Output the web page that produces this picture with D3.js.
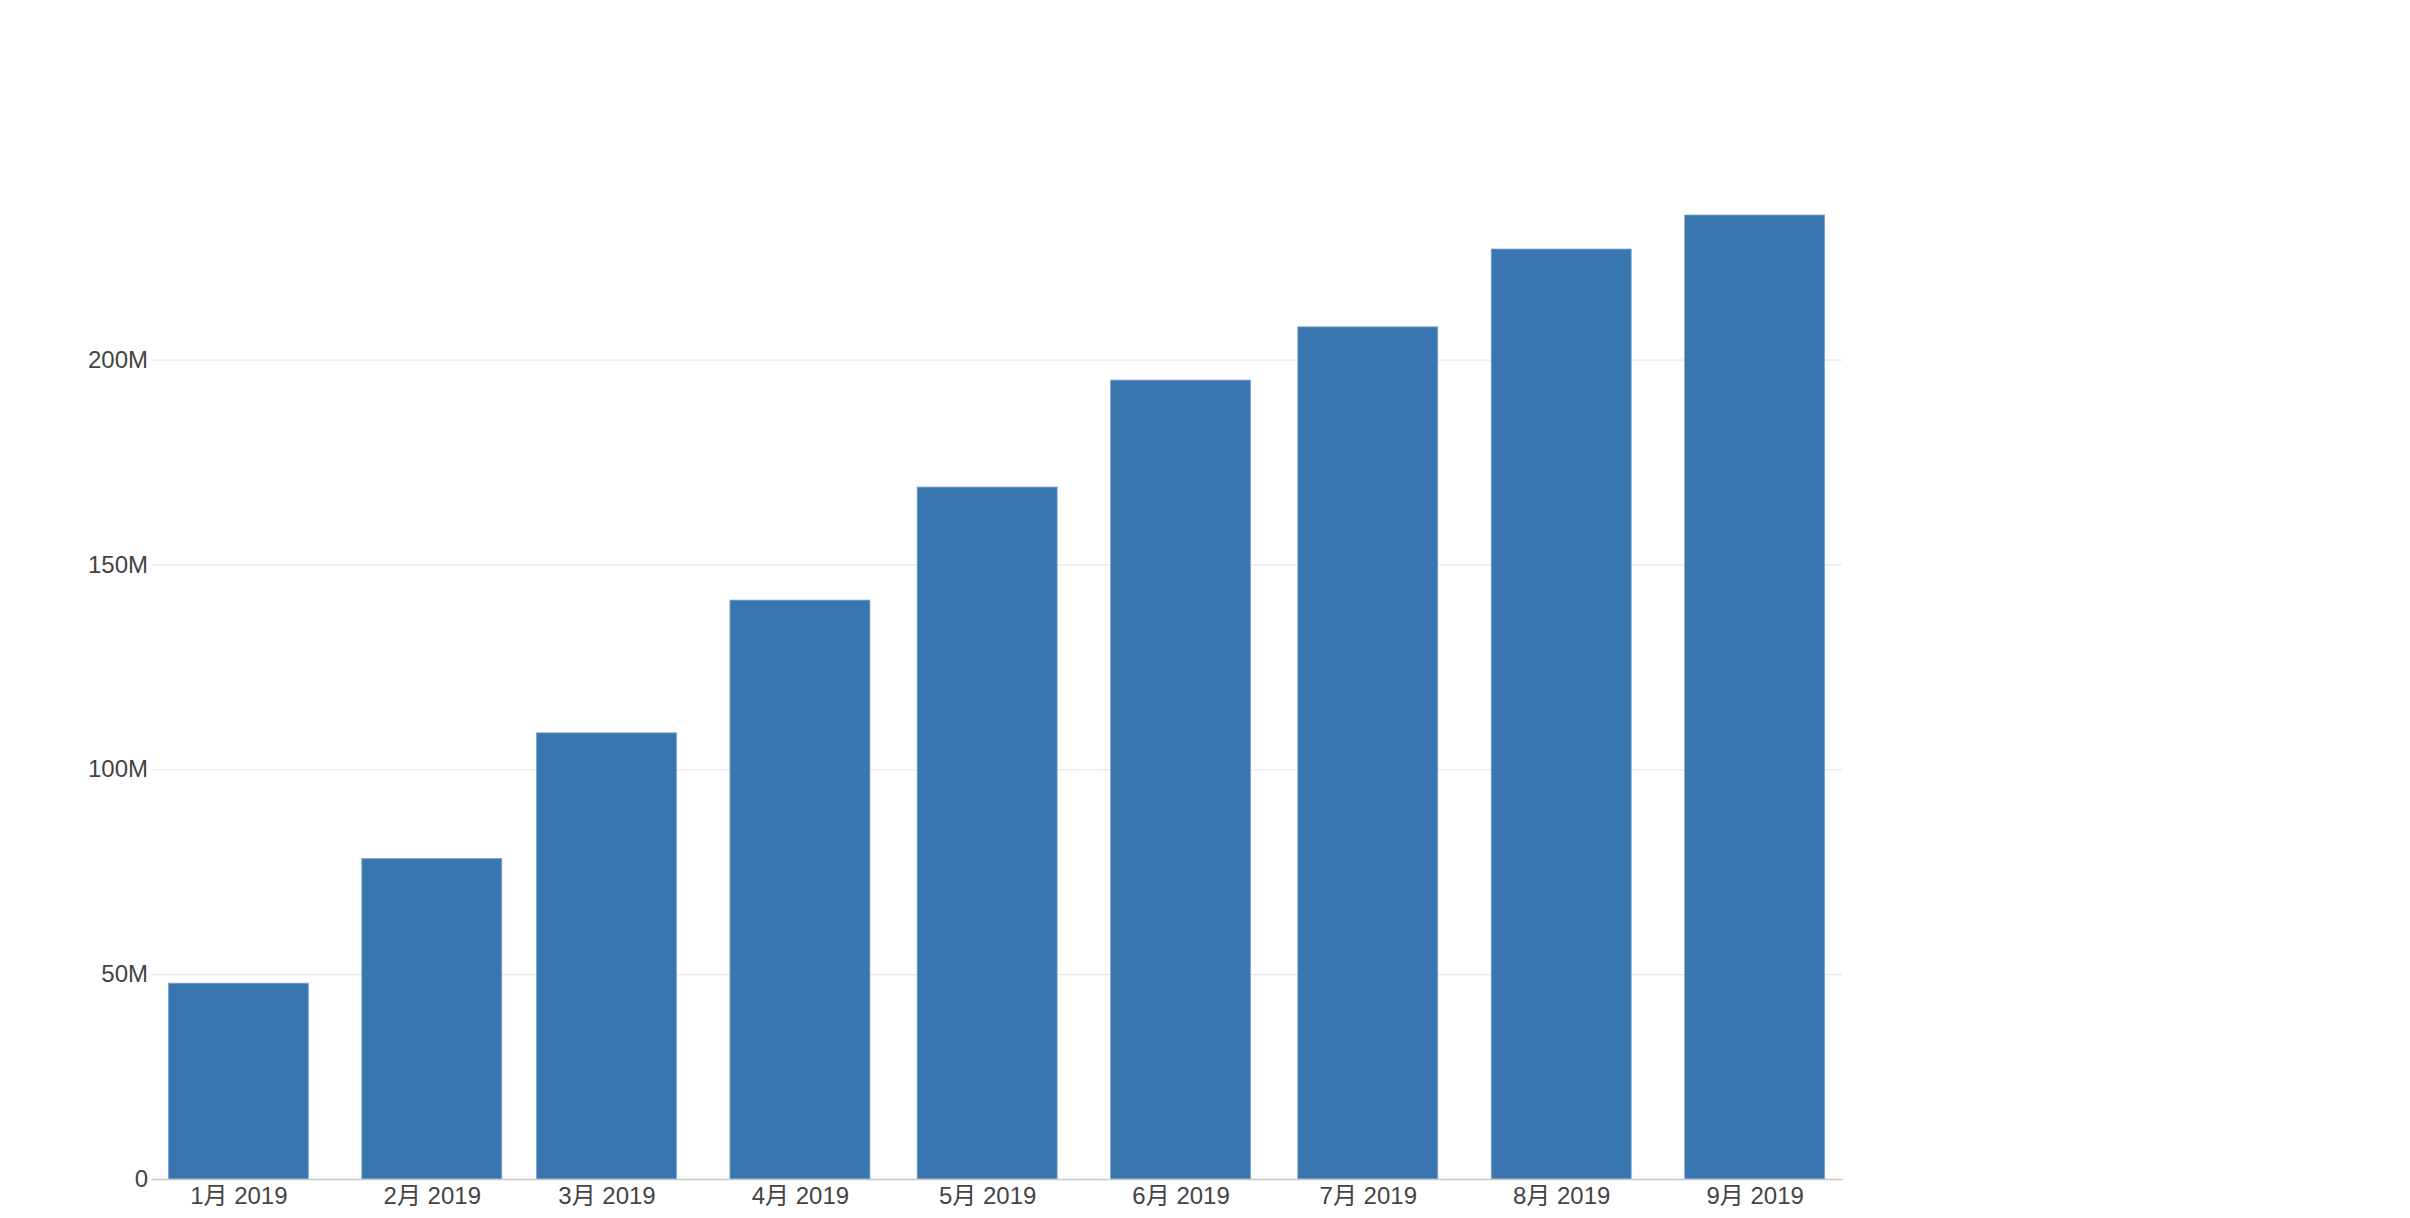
<!DOCTYPE html>
<html>
<head>
<meta charset="utf-8">
<script src="https://cdn.jsdelivr.net/npm/d3@7"></script>
<style>
  html, body { margin: 0; padding: 0; background: #ffffff; }
  svg { display: block; }
  text { font-family: "Liberation Sans", Arial, "Noto Sans CJK SC", sans-serif; }
</style>
</head>
<body>
<svg id="chart" width="2410" height="1218"></svg>
<script>
// ---- data ----
const months = ["2019-01-01","2019-02-01","2019-03-01","2019-04-01","2019-05-01","2019-06-01","2019-07-01","2019-08-01","2019-09-01"];
const xLabels = ["1月 2019","2月 2019","3月 2019","4月 2019","5月 2019","6月 2019","7月 2019","8月 2019","9月 2019"];
const values = [47.8e6, 78.2e6, 108.9e6, 141.3e6, 168.9e6, 195.0e6, 208.0e6, 227.0e6, 235.3e6];
const yTicks = [0, 50e6, 100e6, 150e6, 200e6];
const yTickLabels = ["0", "50M", "100M", "150M", "200M"];

// ---- layout ----
const W = 2410, H = 1218;
const margin = { left: 151, right: W - 1842, top: 215, bottom: H - 1179 };
const plotW = W - margin.left - margin.right;
const plotH = H - margin.top - margin.bottom;
const barWidth = 140;

const parse = d3.utcParse("%Y-%m-%d");
const dates = months.map(parse);
const data = dates.map((d, i) => ({ date: d, value: values[i], label: xLabels[i] }));

const x = d3.scaleUtc()
  .domain([d3.utcDay.offset(dates[0], -14), d3.utcDay.offset(dates[dates.length - 1], 14)])
  .range([0, plotW]);
const y = d3.scaleLinear()
  .domain([0, d3.max(values)])
  .range([plotH, 0]);

const svg = d3.select("#chart");
svg.append("rect").attr("width", W).attr("height", H).attr("fill", "#ffffff");
const g = svg.append("g").attr("transform", `translate(${margin.left},${margin.top})`);

// y axis with gridlines
const yAxis = g.append("g")
  .call(d3.axisLeft(y)
    .tickValues(yTicks)
    .tickFormat((d, i) => yTickLabels[i])
    .tickSize(-plotW)
    .tickPadding(3));
yAxis.select(".domain").remove();
yAxis.selectAll(".tick line").attr("stroke", "#e8e8e8").attr("stroke-width", 1.2);
yAxis.selectAll(".tick text")
  .attr("fill", "#444")
  .style("font-size", "24px");

// bars
g.append("g").selectAll("rect")
  .data(data)
  .join("rect")
  .attr("x", d => x(d.date) - barWidth / 2)
  .attr("y", d => y(d.value))
  .attr("width", barWidth)
  .attr("height", d => plotH - y(d.value))
  .attr("fill", "#3976af")
  .attr("stroke", "#7ea5cf")
  .attr("stroke-width", 0.8);

// x axis
const xAxis = g.append("g")
  .attr("transform", `translate(0,${plotH})`)
  .call(d3.axisBottom(x)
    .tickValues(dates)
    .tickFormat((d, i) => xLabels[i])
    .tickSize(0)
    .tickSizeOuter(0)
    .tickPadding(8));
xAxis.select(".domain").attr("stroke", "#c8c8c8").attr("stroke-width", 1.5);
xAxis.selectAll(".tick text")
  .attr("fill", "#444")
  .style("font-size", "24px");
</script>
</body>
</html>
